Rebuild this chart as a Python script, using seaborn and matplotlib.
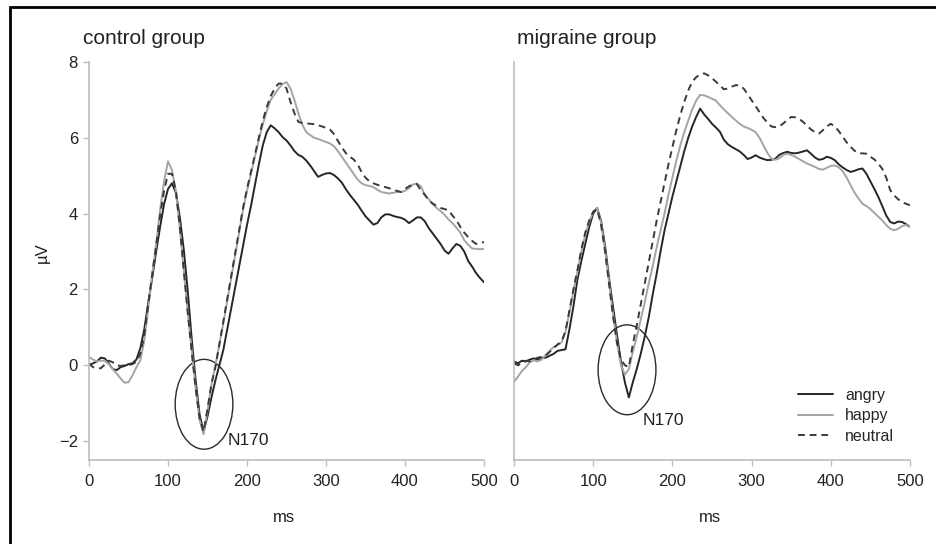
import numpy as np
import pandas as pd
import matplotlib
matplotlib.use("Agg")
import matplotlib.pyplot as plt
import seaborn as sns
from matplotlib.patches import Ellipse, Rectangle

# time axis (ms) and the three face conditions
ms = np.arange(0, 501, 5)
conditions = ["angry", "happy", "neutral"]

# ERP amplitudes (uV), one value every 5 ms
control_angry = [
    0.0, 0.05, 0.1, 0.2, 0.18, 0.05, -0.1, -0.13, -0.05, -0.02,
    0.03, 0.05, 0.15, 0.45, 0.95, 1.65, 2.3, 3.0, 3.65, 4.25,
    4.65, 4.8, 4.55, 3.9, 3.05, 1.95, 0.7, -0.4, -1.3, -1.75,
    -1.35, -0.85, -0.4, 0.0, 0.4, 0.95, 1.5, 2.05, 2.6, 3.15,
    3.7, 4.2, 4.75, 5.3, 5.8, 6.15, 6.33, 6.25, 6.15, 6.02,
    5.93, 5.8, 5.65, 5.55, 5.5, 5.4, 5.27, 5.12, 4.97, 5.02,
    5.06, 5.07, 5.02, 4.93, 4.82, 4.65, 4.5, 4.37, 4.24, 4.08,
    3.93, 3.82, 3.71, 3.75, 3.9, 3.98, 3.98, 3.94, 3.91, 3.89,
    3.84, 3.75, 3.82, 3.9, 3.9, 3.8, 3.62, 3.48, 3.34, 3.2,
    3.03, 2.94, 3.08, 3.2, 3.15, 3.0, 2.75, 2.6, 2.43, 2.3,
    2.19]
control_happy = [
    0.22, 0.15, 0.1, 0.12, 0.12, 0.03, -0.1, -0.22, -0.35, -0.46,
    -0.45, -0.27, -0.05, 0.13, 0.65, 1.5, 2.4, 3.2, 4.1, 4.85,
    5.38, 5.15, 4.6, 3.6, 2.5, 1.4, 0.4, -0.6, -1.45, -1.82,
    -1.2, -0.5, 0.0, 0.55, 1.1, 1.7, 2.3, 2.9, 3.5, 4.1,
    4.6, 5.05, 5.5, 5.95, 6.35, 6.7, 7.0, 7.15, 7.3, 7.42,
    7.47, 7.3, 7.0, 6.65, 6.35, 6.15, 6.07, 6.0, 5.97, 5.93,
    5.89, 5.85, 5.78, 5.65, 5.5, 5.35, 5.2, 5.05, 4.9, 4.8,
    4.75, 4.73, 4.7, 4.63, 4.57, 4.55, 4.53, 4.55, 4.57, 4.57,
    4.6, 4.67, 4.77, 4.79, 4.72, 4.5, 4.38, 4.25, 4.15, 4.07,
    3.97, 3.85, 3.75, 3.63, 3.5, 3.3, 3.18, 3.08, 3.07, 3.06,
    3.07]
control_neutral = [
    0.05, -0.05, -0.08, -0.08, 0.02, 0.12, 0.08, 0.0, -0.02, 0.0,
    0.0, 0.03, 0.09, 0.3, 0.8, 1.6, 2.4, 3.15, 3.95, 4.6,
    5.05, 5.05, 4.6, 3.65, 2.5, 1.4, 0.35, -0.6, -1.4, -1.75,
    -1.15, -0.5, -0.05, 0.55, 1.15, 1.75, 2.35, 2.95, 3.55, 4.15,
    4.65, 5.1, 5.55, 6.0, 6.45, 6.81, 7.1, 7.3, 7.43, 7.43,
    7.3, 6.95, 6.65, 6.42, 6.39, 6.38, 6.37, 6.36, 6.33, 6.3,
    6.26, 6.22, 6.1, 5.92, 5.75, 5.6, 5.5, 5.43, 5.3, 5.1,
    4.95, 4.85, 4.8, 4.76, 4.73, 4.7, 4.67, 4.63, 4.6, 4.57,
    4.65, 4.72, 4.77, 4.78, 4.62, 4.5, 4.35, 4.27, 4.2, 4.15,
    4.12, 4.09, 3.95, 3.83, 3.65, 3.5, 3.38, 3.28, 3.2, 3.22,
    3.25]

migraine_angry = [
    0.1, 0.05, 0.12, 0.1, 0.15, 0.18, 0.15, 0.2, 0.2, 0.25,
    0.3, 0.38, 0.4, 0.42, 0.95, 1.55, 2.25, 2.75, 3.2, 3.65,
    4.0, 4.15, 3.8, 3.15, 2.3, 1.55, 0.8, 0.1, -0.45, -0.85,
    -0.45, -0.1, 0.3, 0.75, 1.25, 1.85, 2.4, 3.0, 3.55, 4.0,
    4.45, 4.85, 5.25, 5.65, 6.0, 6.3, 6.55, 6.77, 6.62, 6.5,
    6.37, 6.27, 6.16, 5.95, 5.83, 5.76, 5.7, 5.64, 5.55, 5.44,
    5.48, 5.54, 5.48, 5.44, 5.41, 5.42, 5.45, 5.55, 5.6, 5.63,
    5.6, 5.59, 5.61, 5.64, 5.67, 5.58, 5.48, 5.42, 5.44, 5.5,
    5.47, 5.41, 5.3, 5.22, 5.15, 5.1, 5.13, 5.17, 5.19, 5.05,
    4.85, 4.65, 4.44, 4.2, 3.95, 3.78, 3.74, 3.79, 3.78, 3.72,
    3.65]
migraine_happy = [
    -0.44, -0.3, -0.15, -0.05, 0.08, 0.13, 0.1, 0.15, 0.28, 0.38,
    0.48, 0.53, 0.6, 0.88, 1.4, 1.95, 2.45, 3.0, 3.45, 3.78,
    4.05, 4.15, 3.75, 3.05, 2.2, 1.35, 0.6, 0.0, -0.25, -0.1,
    0.35, 0.75, 1.2, 1.65, 2.15, 2.6, 3.1, 3.55, 4.0, 4.5,
    4.95, 5.4, 5.8, 6.15, 6.45, 6.75, 6.98, 7.13, 7.12, 7.08,
    7.03, 6.98, 6.86, 6.75, 6.65, 6.55, 6.46, 6.37, 6.3, 6.26,
    6.21, 6.15, 6.0, 5.8, 5.6, 5.45, 5.42, 5.46, 5.55, 5.58,
    5.55, 5.5, 5.44, 5.38, 5.32, 5.28, 5.23, 5.18, 5.16, 5.21,
    5.26, 5.27, 5.22, 5.12, 4.95, 4.75, 4.55, 4.4, 4.26, 4.2,
    4.12, 4.02, 3.92, 3.82, 3.7, 3.6, 3.56, 3.6, 3.67, 3.7,
    3.65]
migraine_neutral = [
    0.05, 0.0, 0.05, 0.12, 0.1, 0.15, 0.2, 0.22, 0.25, 0.35,
    0.45, 0.55, 0.62, 0.9, 1.45, 2.0, 2.5, 3.05, 3.5, 3.82,
    4.05, 4.12, 3.7, 3.0, 2.15, 1.3, 0.6, 0.15, 0.0, -0.05,
    0.55, 1.05, 1.6, 2.15, 2.7, 3.25, 3.8, 4.3, 4.8, 5.3,
    5.75, 6.2, 6.6, 6.95, 7.25, 7.48, 7.6, 7.67, 7.7, 7.65,
    7.57, 7.48, 7.38, 7.28, 7.3, 7.35, 7.39, 7.38, 7.3, 7.15,
    6.99, 6.84, 6.68, 6.52, 6.4, 6.3, 6.28, 6.3, 6.38, 6.47,
    6.55, 6.54, 6.5, 6.42, 6.32, 6.22, 6.15, 6.11, 6.2, 6.3,
    6.37, 6.3, 6.18, 6.03, 5.88, 5.76, 5.66, 5.59, 5.59, 5.58,
    5.5, 5.43, 5.32, 5.18, 4.95, 4.62, 4.48, 4.38, 4.3, 4.26,
    4.22]

groups = {
    "control group": [control_angry, control_happy, control_neutral],
    "migraine group": [migraine_angry, migraine_happy, migraine_neutral],
}

frames = []
for grp, series in groups.items():
    for cond, vals in zip(conditions, series):
        frames.append(pd.DataFrame({"group": grp, "condition": cond,
                                    "ms": ms, "uv": vals}))
df = pd.concat(frames, ignore_index=True)

sns.set_theme(style="white")
plt.rcParams["font.family"] = ["Liberation Sans", "DejaVu Sans"]

palette = {"angry": "#262626", "happy": "#a4a4a4", "neutral": "#3a3a3a"}
dashes = {"angry": "", "happy": "", "neutral": (3.5, 2.5)}
axis_grey = "#bdbdbd"

fig = plt.figure(figsize=(9.36, 5.44), dpi=100)
ax1 = fig.add_axes([89 / 936, 84 / 544, 395 / 936, 398 / 544])
ax2 = fig.add_axes([514 / 936, 84 / 544, 396 / 936, 398 / 544], sharey=ax1)

for ax, grp in [(ax1, "control group"), (ax2, "migraine group")]:
    sns.lineplot(data=df[df["group"] == grp], x="ms", y="uv",
                 hue="condition", style="condition", palette=palette,
                 dashes=dashes, linewidth=1.4, ax=ax,
                 legend=(ax is ax2))
    ax.set_xlim(0, 500)
    ax.set_ylim(-2.5, 8)
    ax.set_xticks([0, 100, 200, 300, 400, 500])
    ax.set_yticks([-2, 0, 2, 4, 6, 8])
    sns.despine(ax=ax)
    for side in ["left", "bottom"]:
        ax.spines[side].set_color(axis_grey)
        ax.spines[side].set_linewidth(1.2)
    ax.tick_params(axis="both", direction="out", length=4, width=1,
                   color=axis_grey, labelsize=12, labelcolor="#222222",
                   bottom=True, left=True)
    ax.tick_params(axis="x", pad=6)
    ax.tick_params(axis="y", pad=4)
    ax.set_xlabel("ms", fontsize=12, color="#222222")
    ax.xaxis.set_label_coords(0.494, -0.126)
    ax.set_ylabel("")

ax1.set_ylabel("\u00b5V", fontsize=12, color="#222222")
ax1.yaxis.set_label_coords(-0.099, 0.52)
ax2.tick_params(axis="y", left=False, labelleft=False)

# N170 markers
ax1.add_patch(Ellipse((145.6, -1.03), 73, 2.37, fill=False,
                      edgecolor="#2a2a2a", linewidth=1.0))
ax1.text(175, -1.98, "N170", fontsize=12.5, va="center", ha="left",
         color="#222222")
ax2.add_patch(Ellipse((142.7, -0.12), 73, 2.37, fill=False,
                      edgecolor="#2a2a2a", linewidth=1.0))
ax2.text(162.5, -1.45, "N170", fontsize=12.5, va="center", ha="left",
         color="#222222")

# legend on the migraine panel
handles, labels = ax2.get_legend_handles_labels()
keep = [(h, l) for h, l in zip(handles, labels) if l in conditions]
ax2.legend([h for h, _ in keep], [l for _, l in keep], loc="upper left",
           bbox_to_anchor=(0.717, 0.182), frameon=False, fontsize=11.5,
           handlelength=2.2, handletextpad=0.75, labelspacing=0.36,
           borderpad=0, borderaxespad=0)

fig.text(83 / 936, 1 - 38 / 544, "control group", fontsize=15,
         va="center", ha="left", color="#222222")
fig.text(517 / 936, 1 - 38 / 544, "migraine group", fontsize=15,
         va="center", ha="left", color="#222222")

# black frame around the figure panel
fig.patches.append(Rectangle((10 / 936, -0.1), 1.2, 1.1 - 7 / 544,
                             transform=fig.transFigure, fill=False,
                             edgecolor="black", linewidth=2))

fig.savefig("out.png", dpi=100, facecolor="white")
